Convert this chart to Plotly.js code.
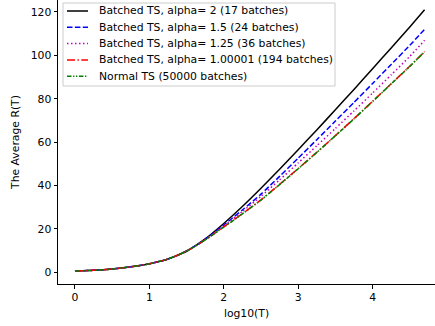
<!DOCTYPE html>
<html>
<head>
<meta charset="utf-8">
<script src="https://cdn.plot.ly/plotly-3.0.1.min.js"></script>
<style>html,body{margin:0;padding:0;background:#fff;}#chart{width:435px;height:326px;}</style>
</head>
<body>
<div id="chart"></div>
<script>
// log10(T) sample points
const logT = [0, 0.25, 0.5, 0.75, 1.0, 1.25, 1.5, 1.75, 2.0, 2.25, 2.5, 2.75, 3.0, 3.25, 3.5, 3.75, 4.0, 4.25, 4.5, 4.699];

const names = [
  "Batched TS, alpha= 2 (17 batches)",
  "Batched TS, alpha= 1.5 (24 batches)",
  "Batched TS, alpha= 1.25 (36 batches)",
  "Batched TS, alpha= 1.00001 (194 batches)",
  "Normal TS (50000 batches)"
];

const alpha2   = [0.6, 0.9, 1.5, 2.5, 3.9, 6.1, 9.8, 15.4, 22.5, 30.3, 38.7, 47.5, 56.5, 65.6, 74.9, 84.3, 93.8, 103.4, 113.1, 121.0];
const alpha15  = [0.6, 0.9, 1.5, 2.5, 3.9, 6.1, 9.7, 15.2, 21.8, 28.7, 36.0, 44.2, 52.6, 61.1, 69.7, 78.3, 87.0, 95.8, 104.6, 112.0];
const alpha125 = [0.6, 0.9, 1.5, 2.5, 3.9, 6.1, 9.7, 15.0, 21.3, 28.0, 35.0, 42.6, 50.4, 58.3, 66.3, 74.4, 82.6, 91.0, 99.5, 106.9];
const alpha1   = [0.6, 0.9, 1.5, 2.5, 3.9, 6.1, 9.7, 14.9, 20.9, 27.0, 33.4, 40.5, 47.8, 55.3, 63.0, 70.8, 78.8, 86.9, 95.0, 101.7];
const normalTS = [0.6, 0.9, 1.5, 2.5, 3.9, 6.1, 9.7, 14.9, 20.8, 26.9, 33.3, 40.4, 47.7, 55.2, 62.9, 70.7, 78.7, 86.8, 94.9, 101.6];

const series = [alpha2, alpha15, alpha125, alpha1, normalTS];
const colors = ["#000000", "#0000ff", "#bf00bf", "#ff0000", "#008000"];
const dashes = ["solid", "5.5px,2.4px", "1.5px,2.5px", "8px,2.4px,1.5px,2.4px", "4.5px,1.6px,1.3px,1.6px,1.3px,1.6px"];

const traces = series.map((ys, i) => ({
  x: logT, y: ys, type: "scatter", mode: "lines", name: names[i], showlegend: false,
  line: {color: colors[i], width: 1.5, dash: dashes[i], shape: "spline", smoothing: 0.5}
}));

// legend drawn in paper coordinates (plot area: 58..435 px wide, 0..284 px high)
const W = 377, H = 284, L = 58;
const px = v => (v - L) / W;
const py = v => 1 - v / H;
const rowY = [11, 27.3, 43.6, 59.9, 76.2];

const shapes = [{
  type: "rect", xref: "paper", yref: "paper", layer: "above",
  x0: px(63), x1: px(335), y0: py(86), y1: py(3),
  fillcolor: "rgba(255,255,255,0.85)", line: {color: "#cccccc", width: 1}
}];
const annotations = [];
names.forEach((n, i) => {
  shapes.push({
    type: "line", xref: "paper", yref: "paper", layer: "above",
    x0: px(67), x1: px(88), y0: py(rowY[i]), y1: py(rowY[i]),
    line: {color: colors[i], width: 1.5, dash: dashes[i]}
  });
  annotations.push({
    xref: "paper", yref: "paper", x: px(97), y: py(rowY[i]),
    xanchor: "left", yanchor: "middle", showarrow: false, text: n,
    font: {family: "DejaVu Sans", size: 10.8, color: "#000"}
  });
});

const layout = {
  width: 435, height: 326,
  margin: {l: 58, r: 0, t: 0, b: 42},
  paper_bgcolor: "#fff", plot_bgcolor: "#fff",
  font: {family: "DejaVu Sans", size: 10.8, color: "#000"},
  showlegend: false,
  shapes: shapes,
  annotations: annotations,
  xaxis: {
    range: [-0.228, 4.839], showgrid: false, zeroline: false,
    showline: true, linecolor: "#000", linewidth: 1,
    ticks: "outside", ticklen: 3.5, tickcolor: "#000", tickwidth: 1,
    tickvals: [0, 1, 2, 3, 4], ticktext: ["0", "1", "2", "3", "4"],
    title: {text: "log10(T)", font: {size: 10.8}, standoff: 5}
  },
  yaxis: {
    range: [-5.4, 125.5], showgrid: false, zeroline: false,
    showline: true, linecolor: "#000", linewidth: 1,
    ticks: "outside", ticklen: 3.5, tickcolor: "#000", tickwidth: 1,
    tickvals: [0, 20, 40, 60, 80, 100, 120],
    title: {text: "The Average R(T)", font: {size: 10.8}, standoff: 8}
  }
};

Plotly.newPlot("chart", traces, layout, {displayModeBar: false, staticPlot: true});
</script>
</body>
</html>
